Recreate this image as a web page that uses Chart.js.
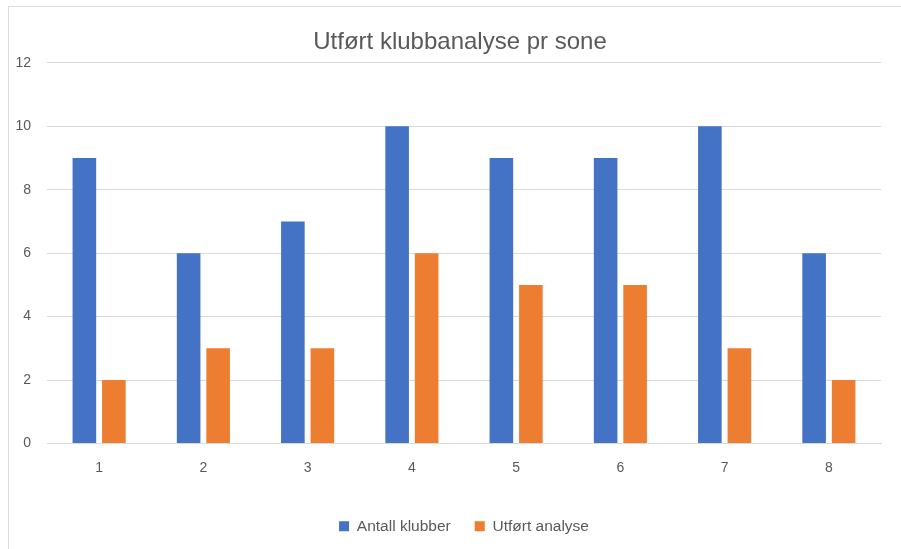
<!DOCTYPE html>
<html>
<head>
<meta charset="utf-8">
<script src="https://cdn.jsdelivr.net/npm/chart.js@4.4.1/dist/chart.umd.min.js"></script>
<style>
  html, body { margin: 0; padding: 0; background: #fff; overflow: hidden; }
  #wrap { position: absolute; left: 0; top: 0; width: 901px; height: 549px; }
  #frame { position: absolute; left: 8px; top: 6px; width: 900px; height: 560px;
           border-left: 1px solid #d9dce6; border-top: 1px solid #d9dce6; pointer-events: none; }
</style>
</head>
<body>
<div id="wrap"><canvas id="chart" width="901" height="549"></canvas></div>
<div id="frame"></div>
<script>
// Utført klubbanalyse pr sone — clustered bar
const soner = ['1', '2', '3', '4', '5', '6', '7', '8'];
const antallKlubber = [9, 6, 7, 10, 9, 9, 10, 6];
const utfortAnalyse = [2, 3, 3, 6, 5, 5, 3, 2];
const yTicks = [0, 2, 4, 6, 8, 10, 12];

const FONT = "'Liberation Sans', Arial, sans-serif";
const TEXT = '#595959';
const GRID = '#d9d9d9';

Chart.defaults.font.family = FONT;
Chart.defaults.color = TEXT;

// centre legend + title over the plot area rather than the whole canvas
const centreBlocks = {
  id: 'centreBlocks',
  afterLayout(chart) {
    const mid = (chart.chartArea.left + chart.chartArea.right) / 2;
    const move = (box, target) => {
      if (!box) return;
      const shift = target - (box.left + box.right) / 2;
      box.left += shift;
      box.right += shift;
    };
    move(chart.legend, mid);
    move(chart.titleBlock, mid - 4);
  }
};

const ctx = document.getElementById('chart').getContext('2d');
new Chart(ctx, {
  type: 'bar',
  data: {
    labels: soner,
    datasets: [
      { label: 'Antall klubber', data: antallKlubber, backgroundColor: '#4472c4',
        barPercentage: 0.8, categoryPercentage: 0.566 },
      { label: 'Utført analyse', data: utfortAnalyse, backgroundColor: '#ed7d31',
        barPercentage: 0.8, categoryPercentage: 0.566 }
    ]
  },
  options: {
    responsive: false,
    animation: false,
    layout: { padding: { left: 0, right: 20, top: 25, bottom: 5 } },
    plugins: {
      title: {
        display: true,
        text: 'Utført klubbanalyse pr sone',
        color: TEXT,
        font: { size: 24, weight: 'normal' },
        padding: { top: 3, bottom: 6 }
      },
      legend: {
        position: 'bottom',
        labels: { boxWidth: 10, boxHeight: 10, font: { size: 15.5 }, color: TEXT, padding: 24 }
      },
      tooltip: { enabled: false }
    },
    scales: {
      x: {
        grid: { display: false, drawTicks: false },
        border: { color: GRID, width: 1 },
        ticks: { font: { size: 14 }, color: TEXT, padding: 16 },
        afterFit: (s) => { s.height = 51; }
      },
      y: {
        min: 0, max: 12,
        afterBuildTicks: (s) => { s.ticks = yTicks.map(v => ({ value: v })); },
        grid: { color: GRID, drawTicks: false },
        border: { display: false },
        ticks: { font: { size: 14 }, color: TEXT, padding: 16 },
        afterFit: (s) => { s.width = 47; }
      }
    }
  },
  plugins: [centreBlocks]
});
</script>
</body>
</html>
